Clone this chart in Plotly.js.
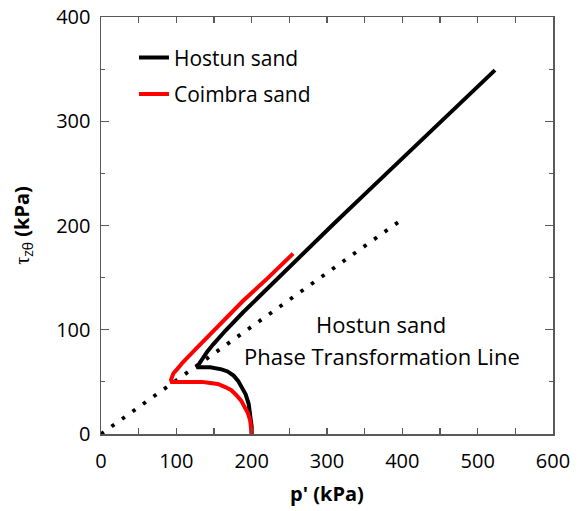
<!DOCTYPE html>
<html>
<head>
<meta charset="utf-8">
<script src="https://cdn.plot.ly/plotly-3.0.1.min.js"></script>
<style>html,body{margin:0;padding:0;background:#fff;}#chart{width:582px;height:511px;}</style>
</head>
<body>
<div id="chart"></div>
<script>
// Hostun sand stress path
const hostunP   = [200, 200, 198, 196, 192, 187, 182, 176, 168, 160, 152, 145, 136, 127, 130, 134, 141, 149, 165, 189, 210, 233, 264, 308, 353, 397, 441, 486, 523];
const hostunTau = [0,   7,   18,  29,  38,  45,  51,  56,  60,  62,  63,  64,  64,  64,  67,  72,  79,  86,  99,  117, 132, 148, 170, 201, 232, 262, 292, 323, 349];
// Coimbra sand stress path
const coimbraP   = [200, 199, 198, 195, 191, 186, 180, 173, 165, 155, 145, 134, 122, 111, 100, 94, 93, 96, 102, 109, 125, 145, 167, 189, 222, 255];
const coimbraTau = [0,   7,   13,  20,  26,  32,  37,  42,  45,  48,  49,  50,  50,  50,  50,  50, 52, 58, 63,  69,  81,  96,  112, 128, 150, 173];
// Hostun sand phase transformation line
const ptlP   = [0, 400];
const ptlTau = [0, 206];

const seriesNames = ['Hostun sand', 'Coimbra sand'];
const xTickVals = [0, 100, 200, 300, 400, 500, 600];
const yTickVals = [0, 100, 200, 300, 400];

const FONT = 'Open Sans, sans-serif';
const AX = '#595959';

const traces = [
  {x: ptlP, y: ptlTau, mode: 'lines', showlegend: false, hoverinfo: 'skip',
   line: {color: '#000', width: 3.8, dash: '3.5px,9.4px'}},
  {x: hostunP, y: hostunTau, mode: 'lines', name: seriesNames[0], legendgroup: 'a',
   line: {color: '#000', width: 4}},
  {x: coimbraP, y: coimbraTau, mode: 'lines', name: seriesNames[1], legendgroup: 'b',
   line: {color: '#ff0000', width: 4}}
];

const axisCommon = {
  showgrid: false, zeroline: false, showline: true, linecolor: AX, linewidth: 1.5,
  mirror: 'allticks', ticks: 'inside', tickcolor: AX, tickwidth: 1.2,
  tickfont: {family: FONT, size: 20, color: '#000'}
};

const layout = {
  width: 582, height: 511,
  margin: {l: 101, r: 29, t: 17, b: 77},
  paper_bgcolor: '#fff', plot_bgcolor: '#fff',
  font: {family: FONT, color: '#000'},
  showlegend: true,
  legend: {x: 0.073, y: 0.951, xanchor: 'left', yanchor: 'top', bgcolor: 'rgba(0,0,0,0)',
           font: {family: FONT, size: 21, color: '#000'}, traceorder: 'grouped', tracegroupgap: 6},
  xaxis: Object.assign({}, axisCommon, {
    range: [0, 600], tickvals: xTickVals, ticklen: 6,
    minor: {dtick: 50, ticks: 'inside', ticklen: 6, tickcolor: AX, tickwidth: 1.2},
    ticklabelstandoff: 8,
    title: {text: "<b>p' (kPa)</b>", font: {family: FONT, size: 20, color: '#000'}, standoff: 14}
  }),
  yaxis: Object.assign({}, axisCommon, {
    range: [0, 400], tickvals: yTickVals, ticklen: 8,
    minor: {dtick: 50, ticks: 'inside', ticklen: 4, tickcolor: AX, tickwidth: 1.2},
    ticklabelstandoff: 5,
    title: {text: "<span style='font-family:Liberation Serif'>τ</span><sub>zθ</sub> <b>(kPa)</b>",
            font: {family: FONT, size: 20, color: '#000'}, standoff: 21}
  }),
  annotations: [
    {x: 372, y: 105.5, xref: 'x', yref: 'y', text: 'Hostun sand', showarrow: false,
     font: {family: FONT, size: 22, color: '#000'}},
    {x: 373, y: 74.8, xref: 'x', yref: 'y', text: 'Phase Transformation Line', showarrow: false,
     font: {family: FONT, size: 22, color: '#000'}}
  ]
};

Plotly.newPlot('chart', traces, layout, {staticPlot: true, displayModeBar: false});
</script>
</body>
</html>
